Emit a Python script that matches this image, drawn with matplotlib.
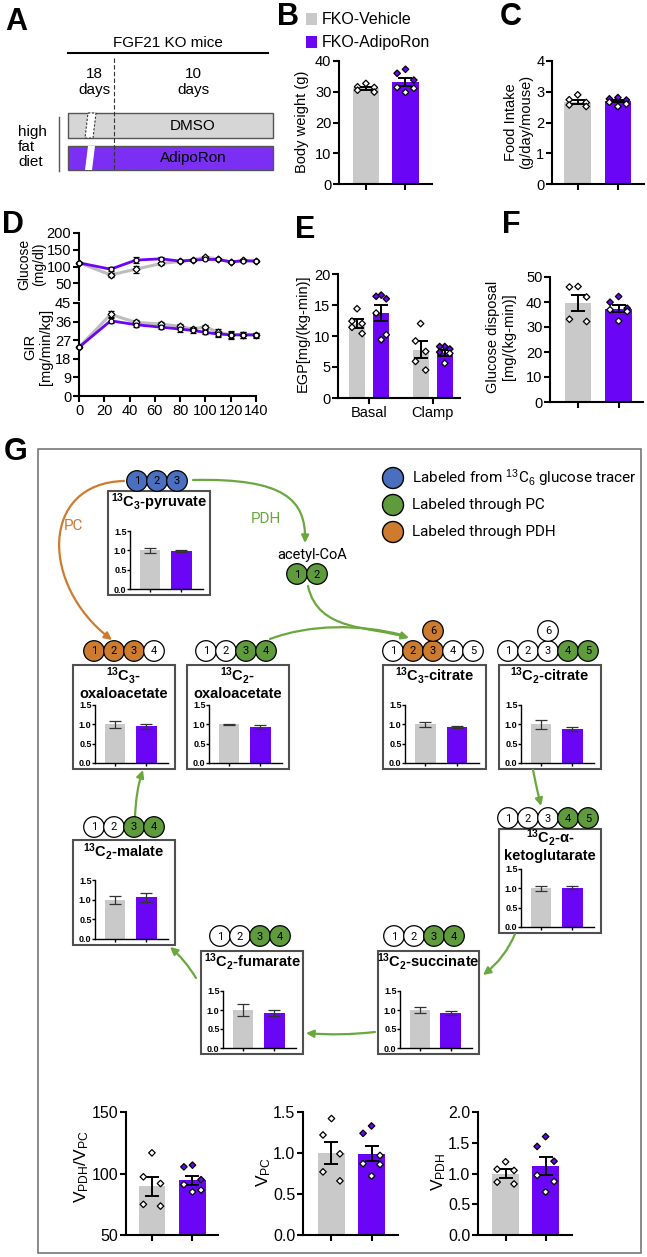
import numpy as np
import matplotlib
matplotlib.use("Agg")
import matplotlib.pyplot as plt
from matplotlib.patches import Rectangle, Circle, Polygon, FancyArrowPatch
from matplotlib.path import Path
from matplotlib.ticker import FormatStrFormatter

W, H = 647, 1257
GREY = "#c9c9c9"
PURPLE = "#6a05f5"
BOX_PURPLE = "#7a2ff2"
ORANGE = "#cd7b2e"
GREEN = "#5f9b3d"
ARROW_GREEN = "#6aa83e"
BLUE = "#4a6fbf"
CFILL = {"b": BLUE, "o": ORANGE, "g": GREEN, "w": "white"}

plt.rcParams["font.family"] = ["Liberation Sans", "DejaVu Sans"]
plt.rcParams["mathtext.fontset"] = "custom"
plt.rcParams["mathtext.rm"] = "Liberation Sans"
plt.rcParams["mathtext.bf"] = "Liberation Sans:bold"
plt.rcParams["mathtext.it"] = "Liberation Sans:italic"

# ---------------- data ----------------
groups = ["FKO-Vehicle", "FKO-AdipoRon"]

# B body weight (g)
bw_mean = [31.1, 33.3]
bw_sem = [0.5, 1.3]
bw_pts = [[32.7, 31.6, 31.4, 30.5, 29.9], [37.3, 36.0, 33.8, 31.4, 31.1, 29.8]]

# C food intake (g/day/mouse)
food_mean = [2.67, 2.70]
food_sem = [0.07, 0.04]
food_pts = [[2.90, 2.74, 2.65, 2.57, 2.52], [2.81, 2.77, 2.73, 2.66, 2.60, 2.52]]

# D clamp time course
time_min = [0, 25, 45, 65, 80, 90, 100, 110, 120, 130, 140]
gluc_veh = [111, 75, 92, 109, 115, 120, 128, 122, 113, 118, 117]
gluc_veh_sem = [3, 6, 10, 5, 3, 3, 4, 3, 2, 3, 3]
gluc_adi = [111, 92, 119, 123, 116, 119, 121, 121, 114, 117, 116]
gluc_adi_sem = [3, 6, 10, 4, 3, 3, 3, 3, 2, 3, 3]
gir_veh = [23.6, 39.5, 35.6, 34.8, 33.7, 32.4, 33.5, 30.8, 29.6, 29.6, 29.4]
gir_veh_sem = [0.5, 1.5, 1.3, 1.0, 1.2, 1.0, 1.0, 1.8, 1.8, 1.5, 1.2]
gir_adi = [23.6, 36.4, 34.5, 33.3, 32.4, 31.7, 30.8, 30.0, 29.6, 29.6, 29.6]
gir_adi_sem = [0.5, 1.3, 1.2, 1.0, 1.5, 1.0, 1.0, 1.5, 1.5, 1.5, 1.0]

# E EGP mg/(kg-min): basal veh, basal adipo, clamp veh, clamp adipo
egp_labels = ["Basal", "Clamp"]
egp_mean = [12.0, 13.7, 7.8, 7.3]
egp_sem = [0.7, 1.3, 1.4, 0.5]
egp_pts = [[14.4, 12.4, 12.0, 11.4, 10.4],
           [16.6, 16.4, 16.0, 13.7, 10.2, 9.4],
           [12.0, 9.2, 7.5, 5.9, 4.5],
           [8.3, 8.3, 7.9, 7.4, 7.2, 5.6]]

# F glucose disposal
gd_mean = [39.8, 37.3]
gd_sem = [3.2, 1.4]
gd_pts = [[46.2, 46.0, 42.0, 33.1, 32.2], [42.2, 39.9, 37.5, 36.9, 36.2, 32.4]]

# G isotopomer ratios (vehicle, adiporon) mean / sem
iso_mean = {"pyruvate": [1.0, 0.99], "C3_oaa": [1.0, 0.95], "C2_oaa": [1.0, 0.92],
            "C3_cit": [1.0, 0.93], "C2_cit": [1.0, 0.87], "akg": [1.0, 1.02],
            "malate": [1.0, 1.06], "fumarate": [1.0, 0.92], "succinate": [1.0, 0.93]}
iso_sem = {"pyruvate": [0.07, 0.03], "C3_oaa": [0.09, 0.07], "C2_oaa": [0.02, 0.05],
           "C3_cit": [0.07, 0.03], "C2_cit": [0.11, 0.05], "akg": [0.07, 0.05],
           "malate": [0.10, 0.12], "fumarate": [0.16, 0.09], "succinate": [0.08, 0.05]}
iso_titles = {"pyruvate": r"$\mathbf{^{13}C_3}$-pyruvate",
              "C3_oaa": "$\\mathbf{^{13}C_3}$-\noxaloacetate",
              "C2_oaa": "$\\mathbf{^{13}C_2}$-\noxaloacetate",
              "C3_cit": r"$\mathbf{^{13}C_3}$-citrate",
              "C2_cit": r"$\mathbf{^{13}C_2}$-citrate",
              "akg": "$\\mathbf{^{13}C_2}$-α-\nketoglutarate",
              "malate": r"$\mathbf{^{13}C_2}$-malate",
              "fumarate": r"$\mathbf{^{13}C_2}$-fumarate",
              "succinate": r"$\mathbf{^{13}C_2}$-succinate"}
iso_carbons = {"pyruvate": "bbb", "C3_oaa": "ooow", "C2_oaa": "wwgg", "C3_cit": "wooww",
               "C2_cit": "wwwgg", "akg": "wwwgg", "malate": "wwgg", "fumarate": "wwgg",
               "succinate": "wwgg"}

# flux bars
vratio_mean = [89.5, 94.6]
vratio_sem = [8.0, 3.7]
vratio_pts = [[116.8, 97.3, 91.9, 74.9, 73.5], [106.8, 105.4, 95.0, 91.0, 86.5, 85.0]]
vpc_mean = [1.0, 0.99]
vpc_sem = [0.14, 0.09]
vpc_pts = [[1.42, 1.22, 0.99, 0.77, 0.66], [1.33, 1.24, 0.97, 0.87, 0.86, 0.72]]
vpdh_mean = [1.0, 1.12]
vpdh_sem = [0.07, 0.15]
vpdh_pts = [[1.19, 1.07, 1.05, 0.86, 0.83], [1.60, 1.44, 1.20, 0.97, 0.87, 0.70]]

# ---------------- layout helpers ----------------
fig = plt.figure(figsize=(W / 100, H / 100), dpi=100)
ov = fig.add_axes([0, 0, 1, 1])
ov.set_xlim(0, W)
ov.set_ylim(H, 0)
ov.axis("off")


def px_axes(x0, y0, x1, y1):
    ax = fig.add_axes([x0 / W, 1 - y1 / H, (x1 - x0) / W, (y1 - y0) / H])
    ax.patch.set_alpha(0)
    return ax


def style(ax, lw=1.5, fs=10.5, length=4):
    for s in ("top", "right"):
        ax.spines[s].set_visible(False)
    for s in ("left", "bottom"):
        ax.spines[s].set_linewidth(lw)
    ax.tick_params(width=lw, length=length, labelsize=fs, pad=1.5)


PATTERN = [0.0, -0.32, 0.32, -0.32, 0.32, 0.0]


def dot_bars(ax, xs, means, sems, pts, width):
    for i, (x, m, s, p) in enumerate(zip(xs, means, sems, pts)):
        col = GREY if i % 2 == 0 else PURPLE
        ax.bar(x, m, width=width, color=col, zorder=1)
        ax.errorbar(x, m, yerr=s, fmt="none", ecolor="black", capsize=5,
                    elinewidth=1.4, capthick=1.4, zorder=3)
        offs = np.array(PATTERN[:len(p)]) * width
        face = ["white" if (i % 2 == 0 or v <= m) else PURPLE for v in p]
        ax.scatter(x + offs, p, marker="D", s=11, facecolors=face,
                   edgecolors="black", linewidths=0.9, zorder=4, clip_on=False)


def label(x, y, s, **kw):
    ov.text(x, y, s, ha="center", va="center", **kw)


# ---------------- panel letters ----------------
for letter, x, y in [("A", 5, 30), ("B", 277, 25), ("C", 500, 25), ("D", 2, 233),
                     ("E", 295, 238), ("F", 502, 233), ("G", 4, 460)]:
    ov.text(x, y, letter, fontsize=22, fontweight="bold", va="baseline")

# ---------------- A: schematic ----------------
label(168, 43, "FGF21 KO mice", fontsize=11)
ov.plot([68, 268], [53, 53], color="black", lw=1.5)
label(94, 82, "18\ndays", fontsize=11, linespacing=1.2)
label(193, 82, "10\ndays", fontsize=11, linespacing=1.2)
ov.add_patch(Rectangle((68, 113), 205, 25, fc="#d6d6d6", ec="#555555", lw=1))
ov.add_patch(Rectangle((68, 146), 205, 24, fc=BOX_PURPLE, ec="#555555", lw=1))
ov.add_patch(Polygon([(88, 113), (96, 113), (93, 138), (85, 138)], closed=True,
                     fc="white", ec="#333333", lw=0.8, ls=(0, (2, 1.5))))
ov.add_patch(Polygon([(88, 146), (95, 146), (92, 170), (85, 170)], closed=True,
                     fc="white", ec="none"))
ov.plot([114, 114], [58, 171], color="#333333", lw=0.8, ls=(0, (4, 2)))
label(193, 126, "DMSO", fontsize=11)
label(193, 158, "AdipoRon", fontsize=11)
ov.text(18, 147, "high\nfat\ndiet", ha="left", va="center", fontsize=11, linespacing=1.1)
ov.plot([59, 59], [117, 171], color="#555555", lw=1)

# ---------------- B / C ----------------
ov.add_patch(Rectangle((306, 13), 11, 12, fc=GREY, ec="none"))
ov.add_patch(Rectangle((306, 36), 11, 12, fc=PURPLE, ec="none"))
ov.text(322, 19, groups[0], va="center", fontsize=11.5)
ov.text(322, 42, groups[1], va="center", fontsize=11.5)

axB = px_axes(339, 61, 432, 184)
dot_bars(axB, [0, 1], bw_mean, bw_sem, bw_pts, 0.66)
axB.set_xlim(-0.68, 1.67)
axB.set_ylim(0, 40)
axB.set_yticks([0, 10, 20, 30, 40])
axB.set_xticks([0, 1])
axB.set_xticklabels([])
style(axB)
label(302, 122, "Body weight (g)", fontsize=10.5, rotation=90)

axC = px_axes(552, 61, 644, 184)
dot_bars(axC, [0, 1], food_mean, food_sem, food_pts, 0.66)
axC.set_xlim(-0.64, 1.65)
axC.set_ylim(0, 4)
axC.set_yticks([0, 1, 2, 3, 4])
axC.set_xticks([0, 1])
axC.set_xticklabels([])
style(axC)
label(519, 122, "Food Intake\n(g/day/mouse)", fontsize=10.5, rotation=90, linespacing=1.1)

# ---------------- D ----------------
axDg = px_axes(79, 233, 256, 300)
axDg.plot(time_min, gluc_veh, color="#bdbdbd", lw=2.2, zorder=1)
axDg.plot(time_min, gluc_adi, color=PURPLE, lw=2.0, zorder=2)
axDg.errorbar(time_min, gluc_veh, yerr=gluc_veh_sem, fmt="D", ms=3.5, mfc="white",
              mec="black", mew=0.9, ecolor="black", elinewidth=1, capsize=2.5, zorder=3, clip_on=False)
axDg.errorbar(time_min, gluc_adi, yerr=gluc_adi_sem, fmt="o", ms=3.5, mfc="white",
              mec="black", mew=0.9, ecolor="black", elinewidth=1, capsize=2.5, zorder=3, clip_on=False)
axDg.set_xlim(0, 140)
axDg.set_ylim(0, 200)
axDg.set_yticks([50, 100, 150, 200])
axDg.set_xticks([])
style(axDg)
axDg.spines["bottom"].set_visible(False)
label(32, 264, "Glucose\n(mg/dl)", fontsize=10, rotation=90, linespacing=1.05)

axDi = px_axes(79, 303, 256, 396)
axDi.plot(time_min, gir_veh, color="#bdbdbd", lw=2.2, zorder=1)
axDi.plot(time_min, gir_adi, color=PURPLE, lw=2.0, zorder=2)
axDi.errorbar(time_min, gir_veh, yerr=gir_veh_sem, fmt="D", ms=3.5, mfc="white",
              mec="black", mew=0.9, ecolor="black", elinewidth=1, capsize=2.5, zorder=3, clip_on=False)
axDi.errorbar(time_min, gir_adi, yerr=gir_adi_sem, fmt="o", ms=3.5, mfc="white",
              mec="black", mew=0.9, ecolor="black", elinewidth=1, capsize=2.5, zorder=3, clip_on=False)
axDi.set_xlim(0, 140)
axDi.set_ylim(0, 45)
axDi.set_yticks([0, 9, 18, 27, 36, 45])
axDi.set_xticks(range(0, 141, 20))
style(axDi)
label(38, 347, "GIR\n[mg/min/kg]", fontsize=10.5, rotation=90, linespacing=1.1)

# ---------------- E ----------------
axE = px_axes(338, 274, 460, 398)
dot_bars(axE, [-0.19, 0.19, 0.81, 1.19], egp_mean, egp_sem, egp_pts, 0.25)
axE.set_xlim(-0.49, 1.43)
axE.set_ylim(0, 20)
axE.set_yticks([0, 5, 10, 15, 20])
axE.set_xticks([0, 1])
axE.set_xticklabels(egp_labels)
style(axE)
label(303, 333, "EGP[mg/(kg-min)]", fontsize=10.5, rotation=90)

# ---------------- F ----------------
axF = px_axes(550, 277, 643, 402)
dot_bars(axF, [0, 1], gd_mean, gd_sem, gd_pts, 0.66)
axF.set_xlim(-0.69, 1.6)
axF.set_ylim(0, 50)
axF.set_yticks([0, 10, 20, 30, 40, 50])
axF.set_xticks([0, 1])
axF.set_xticklabels([])
style(axF)
label(501, 337, "Glucose disposal\n[mg/(kg-min)]", fontsize=10.5, rotation=90, linespacing=1.1)

# ---------------- G: pathway ----------------
ov.add_patch(Rectangle((38, 449), 603, 804, fill=False, ec="#777777", lw=1.2))

for yy, col, txt in [(478, BLUE, "Labeled from $^{13}$C$_6$ glucose tracer"),
                     (505, GREEN, "Labeled through PC"),
                     (532, ORANGE, "Labeled through PDH")]:
    ov.add_patch(Circle((393, yy), 10.5, fc=col, ec="black", lw=1))
    ov.text(412, yy, txt, va="center", fontsize=11, family=["Roboto", "DejaVu Sans"])


def carbons(x0, y, codes, start=1, step=20):
    for k, c in enumerate(codes):
        x = x0 + k * step
        ov.add_patch(Circle((x, y), 10.3, fc=CFILL[c], ec="black", lw=0.9, zorder=3))
        ov.text(x, y + 0.5, str(start + k), ha="center", va="center", fontsize=8,
                family=["Roboto", "DejaVu Sans"], zorder=4)


def mini(name, box, title_y, circ_x, circ_y):
    bx0, by0, bx1, by1 = box
    ov.add_patch(Rectangle((bx0, by0), bx1 - bx0, by1 - by0, fill=False, ec="#505050", lw=1.5))
    ov.text((bx0 + bx1) / 2, title_y, iso_titles[name], ha="center", va="center",
            fontsize=10.5, fontweight="bold", linespacing=1.05)
    carbons(circ_x, circ_y, iso_carbons[name])
    ax = px_axes(bx0 + 22, by0 + 40, bx1 - 7, by1 - 6)
    ax.bar([0, 1], iso_mean[name], width=0.66, color=[GREY, PURPLE], zorder=1)
    ax.errorbar([0, 1], iso_mean[name], yerr=iso_sem[name], fmt="none", ecolor="#333333",
                capsize=4, elinewidth=0.9, capthick=0.9, zorder=2)
    ax.set_xlim(-0.65, 1.7)
    ax.set_ylim(0, 1.5)
    ax.set_yticks([0, 0.5, 1.0, 1.5])
    ax.yaxis.set_major_formatter(FormatStrFormatter("%.1f"))
    ax.set_xticks([0, 1])
    ax.set_xticklabels([])
    style(ax, lw=1.0, fs=6.5, length=2)
    ax.tick_params(pad=0.5)
    for t in ax.get_yticklabels():
        t.set_fontweight("bold")


mini("pyruvate", (108, 491, 210, 595), 502, 137, 481)
mini("C3_oaa", (73, 665, 175, 769), 683, 94, 651)
mini("C2_oaa", (187, 665, 289, 769), 683, 206, 651)
mini("C3_cit", (383, 665, 486, 769), 676, 393, 651)
mini("C2_cit", (499, 665, 601, 769), 676, 508, 651)
mini("akg", (499, 829, 601, 933), 845, 508, 818)
mini("malate", (73, 840, 175, 945), 852, 94, 827)
mini("fumarate", (201, 951, 303, 1054), 962, 220, 936)
mini("succinate", (378, 951, 479, 1054), 962, 394, 936)

# extra carbon 6 of citrate and acetyl-CoA
carbons(433, 631, "o", start=6)
carbons(548, 631, "w", start=6)
label(312, 555, "acetyl-CoA", fontsize=10.5, family=["Roboto", "DejaVu Sans"])
carbons(297, 574, "gg")
label(73, 526, "PC", fontsize=11, color=ORANGE, family=["Roboto", "DejaVu Sans"])
label(266, 519, "PDH", fontsize=11, color=ARROW_GREEN, family=["Roboto", "DejaVu Sans"])

C4 = [Path.MOVETO, Path.CURVE4, Path.CURVE4, Path.CURVE4]
C3 = [Path.MOVETO, Path.CURVE3, Path.CURVE3]


def arrow(verts, codes, color=ARROW_GREEN, head=True):
    ov.add_patch(FancyArrowPatch(path=Path(verts, codes),
                                 arrowstyle="-|>" if head else "-",
                                 mutation_scale=11, lw=1.6, color=color, zorder=2))


arrow([(124, 481), (40, 483), (40, 585), (112, 640)], C4, color=ORANGE)
arrow([(193, 480), (285, 478), (306, 500), (305, 543)], C4)
arrow([(308, 586), (318, 632), (370, 626), (409, 638)], C4)
arrow([(270, 639), (310, 624), (360, 624), (402, 635)], C4, head=False)
arrow([(533, 770), (537, 790), (541, 806)], C3)
arrow([(515, 934), (505, 958), (483, 975)], C3)
arrow([(375, 1032), (340, 1036), (306, 1033)], C3)
arrow([(196, 978), (185, 960), (170, 947)], C3)
arrow([(135, 817), (136, 790), (143, 770)], C3)

# ---------------- G: flux bars ----------------
axV1 = px_axes(126, 1112, 218, 1235)
dot_bars(axV1, [0, 1], vratio_mean, vratio_sem, vratio_pts, 0.66)
axV1.set_xlim(-0.64, 1.63)
axV1.set_ylim(50, 150)
axV1.set_yticks([50, 100, 150])
axV1.set_xticks([0, 1])
axV1.set_xticklabels([])
style(axV1, fs=11.5)
label(82, 1167, r"V$_\mathrm{PDH}$/V$_\mathrm{PC}$", fontsize=12.5, rotation=90)

axV2 = px_axes(303, 1112, 398, 1235)
dot_bars(axV2, [0, 1], vpc_mean, vpc_sem, vpc_pts, 0.66)
axV2.set_xlim(-0.71, 1.66)
axV2.set_ylim(0, 1.5)
axV2.set_yticks([0, 0.5, 1.0, 1.5])
axV2.yaxis.set_major_formatter(FormatStrFormatter("%.1f"))
axV2.set_xticks([0, 1])
axV2.set_xticklabels([])
style(axV2, fs=11.5)
label(264, 1172, r"V$_\mathrm{PC}$", fontsize=12.5, rotation=90)

axV3 = px_axes(478, 1112, 572, 1235)
dot_bars(axV3, [0, 1], vpdh_mean, vpdh_sem, vpdh_pts, 0.66)
axV3.set_xlim(-0.69, 1.66)
axV3.set_ylim(0, 2.0)
axV3.set_yticks([0, 0.5, 1.0, 1.5, 2.0])
axV3.yaxis.set_major_formatter(FormatStrFormatter("%.1f"))
axV3.set_xticks([0, 1])
axV3.set_xticklabels([])
style(axV3, fs=11.5)
label(439, 1172, r"V$_\mathrm{PDH}$", fontsize=12.5, rotation=90)

fig.savefig("out.png", dpi=100)
